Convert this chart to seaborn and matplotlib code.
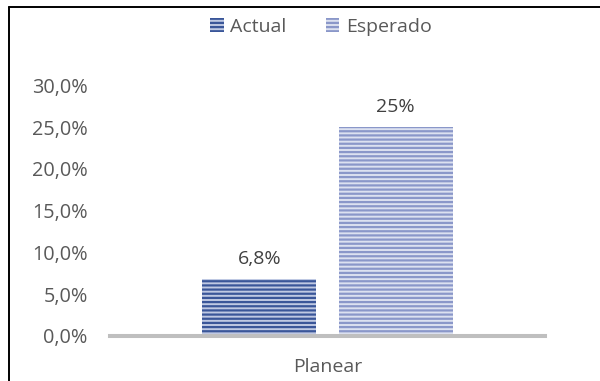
import matplotlib
matplotlib.use("Agg")
import matplotlib.pyplot as plt
from matplotlib.lines import Line2D
from matplotlib.ticker import FuncFormatter
import seaborn as sns
import pandas as pd

# Data
categories = ["Planear"]
series = ["Actual", "Esperado"]
values = [6.8, 25.0]
y_ticks = [0, 5, 10, 15, 20, 25, 30]

stripe_dark = {"Actual": "#3A5699", "Esperado": "#8A97C9"}
stripe_light = {"Actual": "#BFC9E3", "Esperado": "#DCE1F0"}

df = pd.DataFrame({
    "categoria": [categories[0]] * len(series),
    "serie": series,
    "valor": values,
})

sns.set_theme(style="white")
plt.rcParams["font.family"] = ["Open Sans", "DejaVu Sans"]
plt.rcParams["hatch.linewidth"] = 1.6

fig = plt.figure(figsize=(6.0, 3.81), dpi=100)
ax = fig.add_axes([110 / 600, 45 / 381, 435 / 600, 250.8 / 381])

sns.barplot(data=df, x="categoria", y="valor", hue="serie",
            hue_order=series, palette=stripe_light,
            width=0.628, gap=0.166, legend=False, ax=ax,
            saturation=1, linewidth=0)

for cont, name in zip(ax.containers, series):
    for p in cont.patches:
        p.set_facecolor(stripe_light[name])
        p.set_edgecolor(stripe_dark[name])
        p.set_hatch("----")
        p.set_linewidth(0)

def pct_label(v):
    return f"{v:g}".replace(".", ",") + "%"

for cont, v in zip(ax.containers, values):
    ax.bar_label(cont, labels=[pct_label(v)], padding=8,
                 fontsize=14, color="#404040")

ax.set_ylim(0, 30)
ax.set_xlim(-0.5, 0.5)
ax.set_yticks(y_ticks)
ax.yaxis.set_major_formatter(FuncFormatter(lambda v, _: f"{v:.1f}".replace(".", ",") + "%"))
ax.tick_params(axis="y", length=0, pad=16, labelsize=14.3, labelcolor="#595959")
ax.tick_params(axis="x", length=0, pad=16, labelsize=14, labelcolor="#595959")
ax.set_xlabel("")
ax.set_ylabel("")
for s in ["left", "right", "top"]:
    ax.spines[s].set_visible(False)
ax.spines["bottom"].set_color("#BFBFBF")
ax.spines["bottom"].set_linewidth(2.9)
ax.spines["bottom"].set_zorder(5)

handles = [cont.patches[0] for cont in ax.containers]
fig.legend(handles, series, loc="center", bbox_to_anchor=(321 / 600, 1 - 27 / 381),
           ncol=2, frameon=False, fontsize=14, handlelength=0.7,
           handleheight=0.7, handletextpad=0.35, columnspacing=2.0,
           labelcolor="#595959")

# Outer frame of the chart area
fig.add_artist(Line2D([9 / 600, 9 / 600], [0, 1 - 7 / 381], transform=fig.transFigure,
                      color="black", lw=1.4))
fig.add_artist(Line2D([9 / 600, 1], [1 - 7 / 381, 1 - 7 / 381], transform=fig.transFigure,
                      color="black", lw=1.4))

fig.savefig("out.png", dpi=100)
